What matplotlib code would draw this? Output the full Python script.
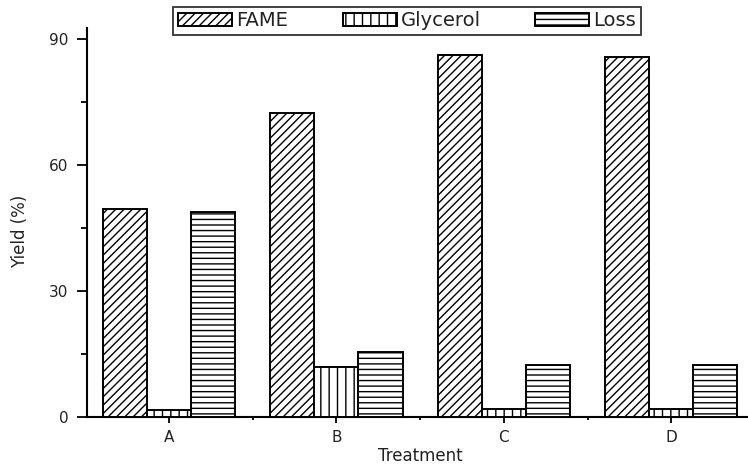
import matplotlib
matplotlib.use("Agg")
import matplotlib.pyplot as plt
import numpy as np
from matplotlib.ticker import MultipleLocator, FixedLocator

# ---- data ----
treatments = ["A", "B", "C", "D"]
series_names = ["FAME", "Glycerol", "Loss"]
fame = [49.5, 72.4, 86.2, 85.6]
glycerol = [1.7, 11.9, 1.9, 1.9]
loss = [48.8, 15.5, 12.4, 12.4]
y_ticks = [0, 30, 60, 90]

plt.rcParams['font.family'] = ['DejaVu Sans']
plt.rcParams['hatch.linewidth'] = 1.0
plt.rcParams['hatch.color'] = 'black'

W, H = 748, 466
fig = plt.figure(figsize=(W / 100, H / 100), dpi=100)
ax = fig.add_axes([87 / W, 49 / H, 668 / W, 389 / H])

x = np.arange(len(treatments))
bw = 0.263
hatches = ['////', '||', '---']
series = [fame, glycerol, loss]
offsets = [-bw, 0, bw]
handles = []
for vals, hz, off, name in zip(series, hatches, offsets, series_names):
    b = ax.bar(x + off, vals, width=bw, facecolor='white', edgecolor='black',
               linewidth=1.4, hatch=hz, label=name, zorder=3)
    handles.append(b)

ax.set_xlim(-0.49, 3.5)
ax.set_ylim(0, 92.6)

ax.set_xticks(x)
ax.set_xticklabels(treatments)
ax.xaxis.set_minor_locator(FixedLocator([0.5, 1.5, 2.5]))
ax.set_yticks(y_ticks)
ax.yaxis.set_minor_locator(MultipleLocator(15))

for s in ['top', 'right']:
    ax.spines[s].set_visible(False)
for s in ['left', 'bottom']:
    ax.spines[s].set_linewidth(1.5)

txtc = '#222222'
ax.tick_params(axis='y', which='major', direction='out', length=7.5, width=1.3,
               pad=6, labelsize=11, labelcolor=txtc)
ax.tick_params(axis='y', which='minor', direction='out', length=4.5, width=1.3)
ax.tick_params(axis='x', which='major', direction='out', length=4.5, width=1.3,
               pad=5, labelsize=11, labelcolor=txtc)
ax.tick_params(axis='x', which='minor', direction='out', length=2, width=1.3)

ax.set_xlabel("Treatment", fontsize=12, color=txtc)
ax.set_ylabel("Yield (%)", fontsize=12, color=txtc)
ax.xaxis.set_label_coords(0.4985, -0.1)
ax.xaxis.label.set_va('center')
ax.yaxis.set_label_coords(-0.1, 0.477)
ax.yaxis.label.set_va('center')

leg = fig.legend(handles=handles, labels=series_names, loc='center',
                 bbox_to_anchor=(407 / W, 1 - 21 / H), ncol=3, fontsize=14,
                 frameon=True, fancybox=False, edgecolor='black',
                 handlelength=2.78, handleheight=0.62, handletextpad=0.2,
                 columnspacing=2.8, borderpad=0.25, borderaxespad=0)
leg.get_frame().set_linewidth(1.3)
for t in leg.get_texts():
    t.set_color(txtc)

fig.savefig("out.png", dpi=100)
